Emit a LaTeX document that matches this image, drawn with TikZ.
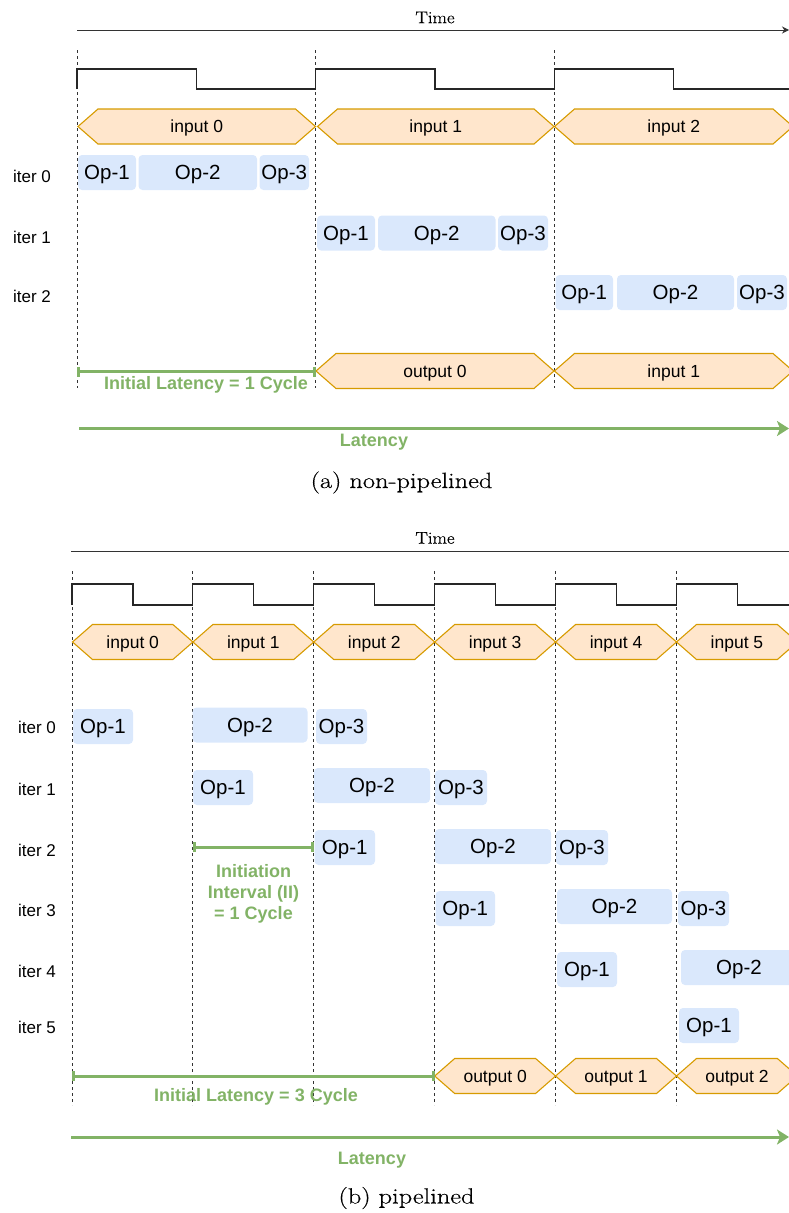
\documentclass[tikz,border=0pt]{standalone}
\usepackage{fontspec}
\newfontfamily\sansf{Liberation Sans}
\newfontfamily\capfont[FakeBold=0.4]{Latin Modern Roman}
\usetikzlibrary{arrows.meta}

\definecolor{hexfill}{HTML}{FFE6CC}
\definecolor{hexdraw}{HTML}{D79B00}
\definecolor{opfill}{HTML}{DAE8FC}
\definecolor{measure}{HTML}{82B366}
\definecolor{guide}{HTML}{333333}

\tikzset{
  hexline/.style={draw=hexdraw, fill=hexfill, line width=1.1pt, line join=miter},
  hextext/.style={font=\sansf\fontsize{17.5}{20}\selectfont, text depth=0pt, inner sep=0pt},
  opbox/.style={fill=opfill, rounded corners=4pt, inner sep=0pt, outer sep=0pt,
                text depth=0pt, minimum height=35pt, font=\sansf\fontsize{20.5}{24}\selectfont},
  iterlabel/.style={font=\sansf\fontsize{17}{20}\selectfont, inner sep=0pt, text depth=0pt},
  clockline/.style={draw=black!85, line width=1.1pt, line join=miter},
  cycleguide/.style={draw=guide, line width=0.9pt, dash pattern=on 3pt off 3pt},
  timeaxis/.style={draw=black!80, line width=1pt},
  spanbar/.style={draw=measure, line width=3pt, {Bar[width=10pt]}-{Bar[width=10pt]}},
  spanarrow/.style={draw=measure, line width=3pt, -{Stealth[length=12pt,width=15pt,inset=3pt]}},
  spanlabel/.style={text=measure, font=\sansf\bfseries\fontsize{18}{21}\selectfont,
                    inner sep=0pt, text depth=0pt},
  timelabel/.style={font=\capfont\fontsize{17}{20}\selectfont, inner sep=0pt},
  captiontext/.style={font=\capfont\fontsize{22}{26}\selectfont, inner sep=0pt},
}

% hexagonal data token: name, left tip, right tip, centre y, label
\newcommand\hexa[5]{%
  \draw[hexline] (#2,#4) -- ({#2+20},{#4-17.5}) -- ({#3-20},{#4-17.5}) -- (#3,#4)
    -- ({#3-20},{#4+17.5}) -- ({#2+20},{#4+17.5}) -- cycle;
  \node[hextext] (#1) at ({(#2+#3)/2},#4) {#5};}

% operation box: name, left, right, centre y, label
\newcommand\opbox[5]{%
  \node[opbox, minimum width={(#3-#2)*1pt}] (#1) at ({(#2+#3)/2},#4) {#5};}

\begin{document}
\begin{tikzpicture}[x=1pt,y=-1pt]
\useasboundingbox (0,0) rectangle (789,1213);
\clip (0,0) rectangle (789,1213);

% ================= (a) non-pipelined =================
\node[timelabel] (a-time) at (435,17.5) {\scalebox{1.1}[1]{Time}};
\coordinate (a-axis-start) at (77,30);
\coordinate (a-axis-end) at (789,30);
\draw[timeaxis, -{Stealth[length=7pt,width=7pt]}] (a-axis-start) -- (a-axis-end);

% cycle boundaries
\foreach \x/\n in {77/0, 315.7/1, 554.4/2} {
  \coordinate (a-g\n-top) at (\x,50);
  \coordinate (a-g\n-bot) at (\x,388);
  \draw[cycleguide] (a-g\n-top) -- (a-g\n-bot);
}

% clock
\draw[clockline] (77,89) -- (77,69) -- (196.3,69) -- (196.3,89) -- (315.7,89) -- (315.7,69)
  -- (435,69) -- (435,89) -- (554.4,89) -- (554.4,69) -- (673.7,69) -- (673.7,89) -- (795,89);

% inputs
\hexa{a-in0}{78}{315.5}{126.5}{input 0}
\hexa{a-in1}{317.5}{554}{126.5}{input 1}
\hexa{a-in2}{554.5}{793}{126.5}{input 2}

% iterations
\node[iterlabel] (a-it0) at (32,176) {iter 0};
\node[iterlabel] (a-it1) at (32,237) {iter 1};
\node[iterlabel] (a-it2) at (32,296) {iter 2};

\opbox{a-i0-op1}{78}{136}{172.5}{Op-1}
\opbox{a-i0-op2}{138.5}{257}{172.5}{Op-2}
\opbox{a-i0-op3}{259.5}{309}{172.5}{Op-3}

\opbox{a-i1-op1}{317}{375}{233}{Op-1}
\opbox{a-i1-op2}{378}{495.5}{233}{Op-2}
\opbox{a-i1-op3}{498}{548}{233}{Op-3}

\opbox{a-i2-op1}{555.5}{613}{292.5}{Op-1}
\opbox{a-i2-op2}{617}{734}{292.5}{Op-2}
\opbox{a-i2-op3}{737}{787}{292.5}{Op-3}

% outputs
\hexa{a-out0}{316}{554}{371}{output 0}
\hexa{a-in1b}{554.5}{793}{371}{input 1}

% latency measures
\coordinate (a-il-start) at (77,371.5);
\coordinate (a-il-end) at (316,371.5);
\draw[spanbar] (a-il-start) -- (a-il-end);
\node[spanlabel] (a-il-label) at (206,382.5) {Initial Latency = 1 Cycle};

\coordinate (a-lat-start) at (79,428.5);
\coordinate (a-lat-end) at (789,428.5);
\draw[spanarrow] (a-lat-start) -- (a-lat-end);
\node[spanlabel] (a-lat-label) at (374,440) {Latency};

\node[captiontext] (a-caption) at (401.5,482.5) {\scalebox{1.2}[1]{(a) non-pipelined}};

% ================= (b) pipelined =================
\node[timelabel] (b-time) at (435,538) {\scalebox{1.1}[1]{Time}};
\coordinate (b-axis-start) at (71,551.5);
\coordinate (b-axis-end) at (797,551.5);
\draw[timeaxis, -{Stealth[length=7pt,width=7pt]}] (b-axis-start) -- (b-axis-end);

% cycle boundaries
\foreach \x/\n in {72/0, 192.9/1, 313.8/2, 434.7/3, 555.6/4, 676.5/5} {
  \coordinate (b-g\n-top) at (\x,571);
  \coordinate (b-g\n-bot) at (\x,1105);
  \draw[cycleguide] (b-g\n-top) -- (b-g\n-bot);
}

% clock
\draw[clockline] (72,605) -- (72,584) -- (133,584) -- (133,605)
  -- (192.9,605) -- (192.9,584) -- (253.9,584) -- (253.9,605)
  -- (313.8,605) -- (313.8,584) -- (374.8,584) -- (374.8,605)
  -- (434.7,605) -- (434.7,584) -- (495.7,584) -- (495.7,605)
  -- (555.6,605) -- (555.6,584) -- (616.6,584) -- (616.6,605)
  -- (676.5,605) -- (676.5,584) -- (737.5,584) -- (737.5,605) -- (795,605);

% inputs
\hexa{b-in0}{72.5}{192.9}{642}{input 0}
\hexa{b-in1}{192.9}{313.8}{642}{input 1}
\hexa{b-in2}{313.8}{434.7}{642}{input 2}
\hexa{b-in3}{434.7}{555.6}{642}{input 3}
\hexa{b-in4}{555.6}{676.5}{642}{input 4}
\hexa{b-in5}{676.5}{797.4}{642}{input 5}

% iterations
\node[iterlabel] (b-it0) at (37,727) {iter 0};
\node[iterlabel] (b-it1) at (37,789) {iter 1};
\node[iterlabel] (b-it2) at (37,850) {iter 2};
\node[iterlabel] (b-it3) at (37,910) {iter 3};
\node[iterlabel] (b-it4) at (37,971) {iter 4};
\node[iterlabel] (b-it5) at (37,1027) {iter 5};

\opbox{b-i0-op1}{73}{133}{726.5}{Op-1}
\opbox{b-i0-op2}{192.5}{307.5}{725}{Op-2}
\opbox{b-i0-op3}{316}{367}{726.5}{Op-3}

\opbox{b-i1-op1}{193}{253}{787.5}{Op-1}
\opbox{b-i1-op2}{314}{430}{785.5}{Op-2}
\opbox{b-i1-op3}{435}{487}{787.5}{Op-3}

\opbox{b-i2-op1}{314.5}{375}{847.5}{Op-1}
\opbox{b-i2-op2}{435}{551}{846.5}{Op-2}
\opbox{b-i2-op3}{556}{608}{847.5}{Op-3}

\opbox{b-i3-op1}{435.5}{495}{908.5}{Op-1}
\opbox{b-i3-op2}{557}{672}{906.5}{Op-2}
\opbox{b-i3-op3}{678}{729}{908.5}{Op-3}

\opbox{b-i4-op1}{557}{617}{969.5}{Op-1}
\opbox{b-i4-op2}{681}{797}{967.5}{Op-2}

\opbox{b-i5-op1}{679}{739}{1025.5}{Op-1}

% initiation interval
\coordinate (b-ii-start) at (193,847);
\coordinate (b-ii-end) at (314,847);
\draw[spanbar] (b-ii-start) -- (b-ii-end);
\node[spanlabel, align=center] (b-ii-label) at (253.5,892) {Initiation\\Interval (II)\\= 1 Cycle};

% outputs
\hexa{b-out0}{434.7}{555.6}{1076}{output 0}
\hexa{b-out1}{555.6}{676.5}{1076}{output 1}
\hexa{b-out2}{676.5}{797.4}{1076}{output 2}

% latency measures
\coordinate (b-il-start) at (72,1076);
\coordinate (b-il-end) at (435,1076);
\draw[spanbar] (b-il-start) -- (b-il-end);
\node[spanlabel] (b-il-label) at (256,1095) {Initial Latency = 3 Cycle};

\coordinate (b-lat-start) at (71,1137);
\coordinate (b-lat-end) at (789,1137);
\draw[spanarrow] (b-lat-start) -- (b-lat-end);
\node[spanlabel] (b-lat-label) at (372,1158) {Latency};

\node[captiontext] (b-caption) at (406.5,1198) {\scalebox{1.2}[1]{(b) pipelined}};
\end{tikzpicture}
\end{document}
